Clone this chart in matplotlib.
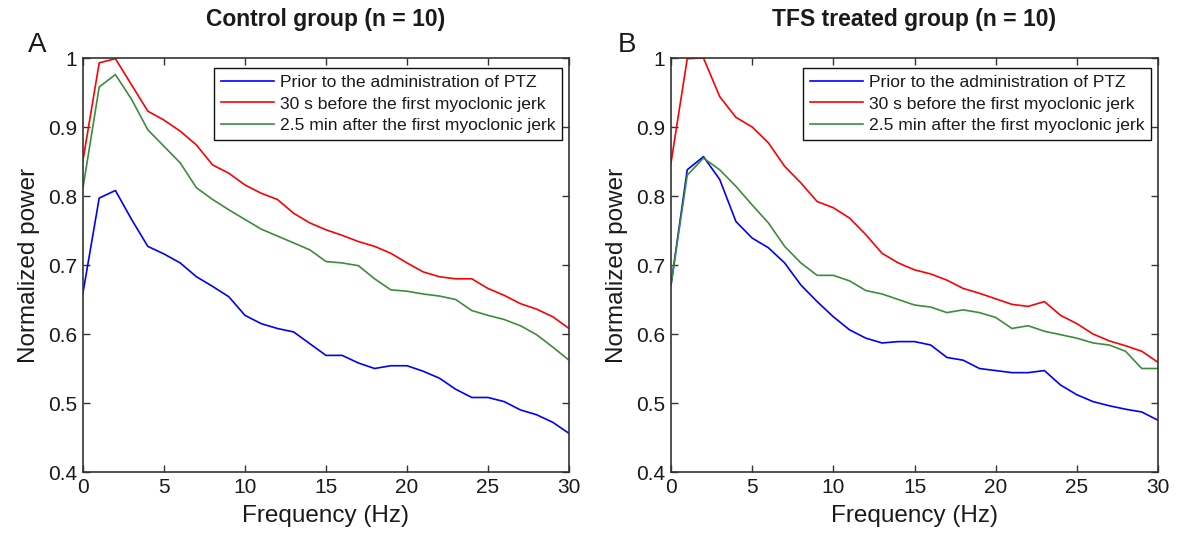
import numpy as np
import matplotlib
matplotlib.use('Agg')
import matplotlib.pyplot as plt

plt.rcParams['font.family'] = ['Liberation Sans', 'DejaVu Sans']

freq = list(range(31))

# control group
ctrl_prior = [0.660, 0.797, 0.808, 0.766, 0.727, 0.716, 0.703, 0.683, 0.669, 0.654,
              0.627, 0.615, 0.608, 0.603, 0.586, 0.569, 0.569, 0.558, 0.550, 0.554,
              0.554, 0.546, 0.536, 0.520, 0.508, 0.508, 0.502, 0.490, 0.483, 0.472,
              0.456]
ctrl_before = [0.852, 0.993, 0.999, 0.961, 0.923, 0.910, 0.894, 0.874, 0.845, 0.833,
               0.816, 0.804, 0.795, 0.775, 0.761, 0.751, 0.743, 0.734, 0.727, 0.717,
               0.703, 0.690, 0.683, 0.680, 0.680, 0.666, 0.656, 0.644, 0.636, 0.625,
               0.608]
ctrl_after = [0.812, 0.958, 0.976, 0.940, 0.896, 0.872, 0.848, 0.812, 0.795, 0.780,
              0.766, 0.752, 0.742, 0.732, 0.722, 0.705, 0.703, 0.699, 0.680, 0.664,
              0.662, 0.658, 0.655, 0.650, 0.634, 0.627, 0.621, 0.612, 0.599, 0.581,
              0.562]

# TFS treated group
tfs_prior = [0.671, 0.838, 0.857, 0.824, 0.763, 0.739, 0.725, 0.703, 0.671, 0.647,
             0.625, 0.606, 0.594, 0.587, 0.589, 0.589, 0.584, 0.566, 0.562, 0.550,
             0.547, 0.544, 0.544, 0.547, 0.526, 0.512, 0.502, 0.496, 0.491, 0.487,
             0.475]
tfs_before = [0.848, 0.999, 1.000, 0.944, 0.914, 0.900, 0.877, 0.843, 0.819, 0.792,
              0.783, 0.768, 0.744, 0.717, 0.703, 0.693, 0.687, 0.678, 0.666, 0.659,
              0.651, 0.643, 0.640, 0.647, 0.627, 0.615, 0.600, 0.590, 0.583, 0.575,
              0.559]
tfs_after = [0.671, 0.830, 0.855, 0.838, 0.814, 0.787, 0.761, 0.727, 0.703, 0.685,
             0.685, 0.677, 0.663, 0.658, 0.650, 0.642, 0.639, 0.631, 0.635, 0.631,
             0.624, 0.608, 0.612, 0.604, 0.599, 0.594, 0.587, 0.584, 0.575, 0.550,
             0.550]

labels = ['Prior to the administration of PTZ',
          '30 s before the first myoclonic jerk',
          '2.5 min after the first myoclonic jerk']
titles = ['Control group (n = 10)', 'TFS treated group (n = 10)']
panel_letters = ['A', 'B']

colors = ['#0000ff', '#ff0000', '#3d8c3d']
text_col = '#1a1a1a'


def draw_panel(ax, series, title):
    for y, c, lab in zip(series, colors, labels):
        ax.plot(freq, y, color=c, lw=1.2, label=lab)
    ax.set_xlim(0, 30)
    ax.set_ylim(0.4, 1.0)
    ax.set_xticks(range(0, 31, 5))
    ax.set_yticks([0.4, 0.5, 0.6, 0.7, 0.8, 0.9, 1.0])
    ax.set_yticklabels(['0.4', '0.5', '0.6', '0.7', '0.8', '0.9', '1'])
    ax.tick_params(direction='in', top=True, right=True, length=5, width=1,
                   labelsize=15, colors='#333333', labelcolor=text_col, pad=4)
    for sp in ax.spines.values():
        sp.set_color('#333333')
        sp.set_linewidth(1.2)
    ax.set_xlabel('Frequency (Hz)', fontsize=17.5, color=text_col, labelpad=6)
    ax.set_ylabel('Normalized power', fontsize=17.5, color=text_col, labelpad=6)
    ax.set_title(title, fontsize=16.5, fontweight='bold', color=text_col, pad=23)
    leg = ax.legend(loc='upper right', bbox_to_anchor=(0.986, 0.976), borderaxespad=0,
                    fontsize=12.6, frameon=True, fancybox=False, framealpha=1,
                    edgecolor='#111111', handlelength=3.0, handletextpad=0.35,
                    labelspacing=0.35, borderpad=0.4)
    leg.get_frame().set_linewidth(1.0)
    for t in leg.get_texts():
        t.set_color(text_col)


fig = plt.figure(figsize=(11.84, 5.36), dpi=100)
ax_a = fig.add_axes([83 / 1184, 64 / 536, 486 / 1184, 414 / 536])
ax_b = fig.add_axes([671 / 1184, 64 / 536, 487 / 1184, 414 / 536])

draw_panel(ax_a, [ctrl_prior, ctrl_before, ctrl_after], titles[0])
draw_panel(ax_b, [tfs_prior, tfs_before, tfs_after], titles[1])

fig.text(28 / 1184, 1 - 45 / 536, panel_letters[0], fontsize=20, va='center', color=text_col)
fig.text(618 / 1184, 1 - 45 / 536, panel_letters[1], fontsize=20, va='center', color=text_col)

fig.savefig('out.png', dpi=100, facecolor='white')
